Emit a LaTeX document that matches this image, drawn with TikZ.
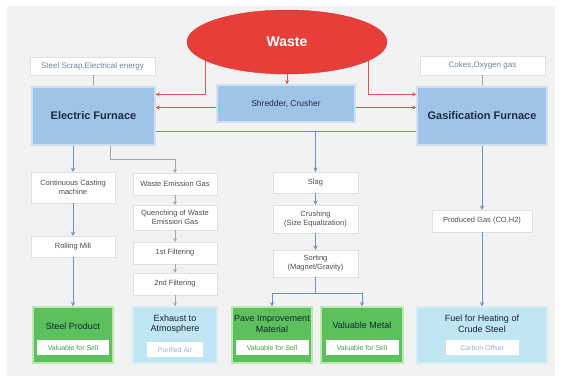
\documentclass[tikz,border=0pt]{standalone}
\usepackage{fontspec}
\setmainfont{Liberation Sans}
\usetikzlibrary{calc,shapes.geometric}
\definecolor{bggray}{RGB}{242,242,242}
\definecolor{wastered}{RGB}{232,62,58}
\definecolor{wasteedge}{RGB}{214,52,50}
\definecolor{furnaceblue}{RGB}{160,196,232}
\definecolor{furnaceedge}{RGB}{208,224,242}
\definecolor{navytext}{RGB}{30,42,72}
\definecolor{sellgreen}{RGB}{92,192,92}
\definecolor{selledge}{RGB}{188,234,178}
\definecolor{airblue}{RGB}{192,229,243}
\definecolor{airedge}{RGB}{216,236,246}
\definecolor{redflow}{RGB}{226,82,80}
\definecolor{blueflow}{RGB}{104,144,202}
\definecolor{inputtext}{RGB}{110,130,165}
\tikzset{
	inputbox/.style={draw=black!12, fill=white, text=inputtext, inner sep=0pt, font=\fontsize{8}{9}\selectfont},
	furnacebox/.style={draw=furnaceedge, line width=1.2pt, fill=furnaceblue, text=navytext, inner sep=0pt, font=\fontsize{11}{13}\selectfont\bfseries},
	stepbox/.style={draw=black!12, fill=white, text=black!70, inner sep=0pt, align=center, font=\fontsize{7.5}{9}\selectfont},
	sellbox/.style={draw=selledge, line width=1.5pt, fill=sellgreen, inner sep=0pt},
	airbox/.style={draw=airedge, line width=1.5pt, fill=airblue, inner sep=0pt},
	titletext/.style={inner sep=0pt, align=center, text=navytext!80!black, font=\fontsize{9}{10.5}\selectfont},
	innerbox/.style={fill=white, inner sep=0pt, minimum height=15pt, font=\fontsize{7}{8}\selectfont},
	redline/.style={draw=redflow, line width=0.9pt, ->},
	blueline/.style={draw=blueflow, line width=0.9pt},
	bluearrow/.style={draw=blueflow, line width=0.9pt, ->},
	greyarrow/.style={draw=black!35, line width=0.7pt, ->}
}

\begin{document}
\begin{tikzpicture}[x=1pt,y=-1pt,>=stealth]
				\useasboundingbox (0,0) rectangle (563,376);
				\fill[white] (0,0) rectangle (563,376);
				\fill[bggray] (7,6) rectangle (555,376);
				
				\node[ellipse, fill=wastered, draw=wasteedge, minimum width=200pt, minimum height=64pt, text=white, font=\fontsize{14}{16}\selectfont\bfseries] (waste) at (287,42) {Waste};
				
				\node[inputbox, minimum width=125pt, minimum height=18pt] (scrap) at (92.5,66) {Steel Scrap,Electrical energy};
				\node[inputbox, minimum width=125pt, minimum height=19pt] (cokes) at (482.5,65.5) {Cokes,Oxygen gas};
				
				\node[furnacebox, minimum width=123pt, minimum height=58pt] (ef) at (93.5,116) {Electric Furnace};
				\node[furnacebox, minimum width=138pt, minimum height=37pt, font=\fontsize{8.5}{10}\selectfont] (shred) at (286,103.5) {Shredder, Crusher};
				\node[furnacebox, minimum width=130pt, minimum height=58pt] (gf) at (482,116) {Gasification Furnace};
				
				\node[stepbox, minimum width=84pt, minimum height=31pt] (cast) at (73,187.5) {Continuous Casting\\machine};
				\node[stepbox, minimum width=84pt, minimum height=21pt] (roll) at (73,246.5) {Rolling Mill};
				\node[sellbox, minimum width=80pt, minimum height=56pt] (steel) at (73,335) {};
				\node[titletext] (steeltitle) at (73,326) {Steel Product};
				\node[innerbox, minimum width=72pt, text=sellgreen!80!black] (steelsell) at (73,347.5) {Valuable for Sell};
				
				\node[stepbox, minimum width=84pt, minimum height=22pt] (wgas) at (175,184) {Waste Emission Gas};
				\node[stepbox, minimum width=84pt, minimum height=25pt] (quench) at (175,217.5) {Quenching of Waste\\Emission Gas};
				\node[stepbox, minimum width=84pt, minimum height=22pt] (filt1) at (175,253) {1st Filtering};
				\node[stepbox, minimum width=84pt, minimum height=22pt] (filt2) at (175,284) {2nd Filtering};
				\node[airbox, minimum width=84pt, minimum height=56pt] (exhaust) at (175,335) {};
				\node[titletext] (exhausttitle) at (175,324) {Exhaust to\\Atmosphere};
				\node[innerbox, minimum width=56pt, text=blueflow!70] (exhaustair) at (175,349.5) {Purified Air};
				
				\node[stepbox, minimum width=85pt, minimum height=21pt] (slag) at (315.5,182.5) {Slag};
				\node[stepbox, minimum width=85pt, minimum height=28pt] (crush) at (315.5,219) {Crushing\\(Size Equalization)};
				\node[stepbox, minimum width=85pt, minimum height=27pt] (sort) at (315.5,263.5) {Sorting\\(Magnet/Gravity)};
				\node[sellbox, minimum width=80pt, minimum height=56pt] (pave) at (272,335) {};
				\node[titletext] (pavetitle) at (272,324) {Pave Improvement\\Material};
				\node[innerbox, minimum width=73pt, text=sellgreen!80!black] (pavesell) at (272,347.5) {Valuable for Sell};
				\node[sellbox, minimum width=82pt, minimum height=56pt] (metal) at (362,335) {};
				\node[titletext] (metaltitle) at (362,325) {Valuable Metal};
				\node[innerbox, minimum width=73pt, text=sellgreen!80!black] (metalsell) at (362,347.5) {Valuable for Sell};
				
				\node[stepbox, minimum width=100pt, minimum height=22pt] (prodgas) at (482,221) {Produced Gas (CO,H2)};
				\node[airbox, minimum width=130pt, minimum height=56pt] (fuel) at (482,335) {};
				\node[titletext] (fueltitle) at (482,324) {Fuel for Heating of\\Crude Steel};
				\node[innerbox, minimum width=73pt, text=blueflow!70] (fueloffset) at (482,347.5) {Carbon Offset};
				
				\coordinate (shredL) at ([yshift=-4pt]shred.west);
				\coordinate (shredR) at ([yshift=-4pt]shred.east);
				\coordinate (efin) at ([yshift=-8pt]ef.north east);
				\coordinate (gfin) at ([yshift=-8pt]gf.north west);
				\coordinate (bus) at ([yshift=-15pt]ef.east);
				
				\draw[redline] (waste.193) |- (efin);
				\draw[redline] (waste.347) |- (gfin);
				\draw[redline] (waste.south) -- (waste.south |- shred.north);
				\draw[redline] (shredL) -- (shredL -| ef.east);
				\draw[redline] (shredR) -- (shredR -| gf.west);
				
				\draw[draw=black!35, line width=0.7pt] (scrap.south -| ef.north) -- (ef.north);
				\draw[draw=black!35, line width=0.7pt] (cokes.south -| gf.north) -- (gf.north);
				
				\draw[blueline] (bus) -- (bus -| gf.west);
				\draw[bluearrow] (bus -| slag.north) -- (slag.north);
				
				\draw[bluearrow] (ef.south -| cast.north) -- (cast.north);
				\draw[bluearrow] (cast) -- (roll);
				\draw[bluearrow] (roll) -- (steel);
				
				\draw[greyarrow] ([xshift=17pt]ef.south) -- ++(0,14) -| (wgas.north);
				\draw[greyarrow] (wgas) -- (quench);
				\draw[greyarrow] (quench) -- (filt1);
				\draw[greyarrow] (filt1) -- (filt2);
				\draw[greyarrow] (filt2) -- (exhaust);
				
				\draw[bluearrow] (slag) -- (crush);
				\draw[bluearrow] (crush) -- (sort);
				\draw[blueline] (sort.south) -- ++(0,16) coordinate (fork);
				\draw[bluearrow] (fork) -| (pave.north);
				\draw[bluearrow] (fork) -| (metal.north);
				
				\draw[bluearrow] (gf) -- (prodgas);
				\draw[bluearrow] (prodgas) -- (fuel);
			\end{tikzpicture}
\end{document}
